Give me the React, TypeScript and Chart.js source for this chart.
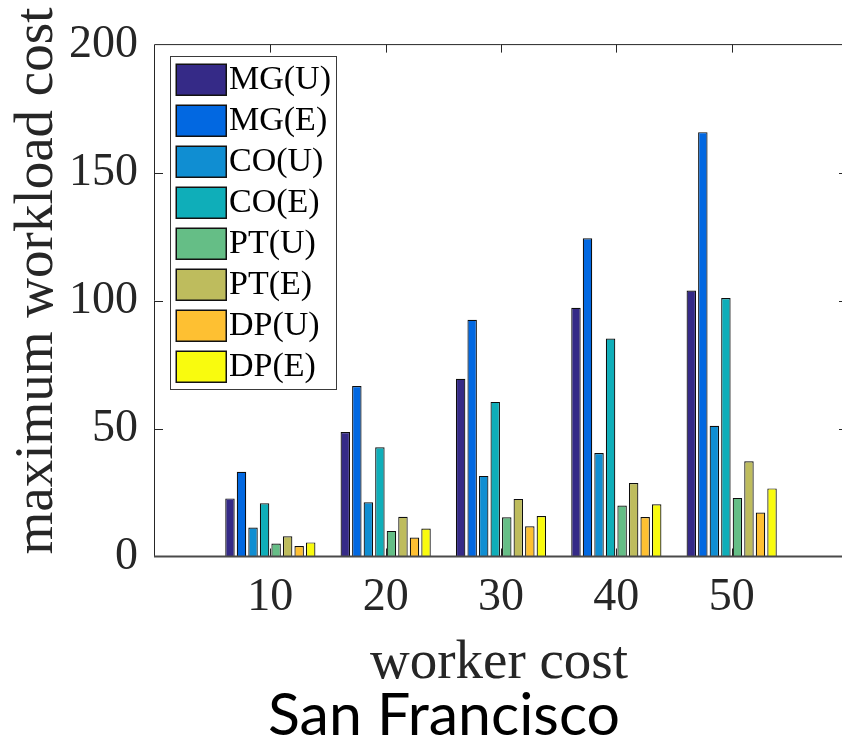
import React, { useEffect, useRef } from 'react';
import { Chart, registerables } from 'chart.js';

Chart.register(...registerables);

// ---- data ----
const workerCosts = [10, 20, 30, 40, 50];
const seriesNames = ['MG(U)', 'MG(E)', 'CO(U)', 'CO(E)', 'PT(U)', 'PT(E)', 'DP(U)', 'DP(E)'];
const mgU = [22.7, 48.6, 69.4, 97.2, 103.9];
const mgE = [33.1, 66.6, 92.5, 124.3, 165.8];
const coU = [11.3, 21.2, 31.5, 40.4, 51.1];
const coE = [20.8, 42.7, 60.4, 85.2, 101.0];
const ptU = [5.1, 10.0, 15.3, 19.9, 22.9];
const ptE = [7.9, 15.5, 22.5, 28.7, 37.2];
const dpU = [4.1, 7.4, 11.8, 15.4, 17.2];
const dpE = [5.5, 10.9, 15.8, 20.4, 26.6];
const seriesValues = [mgU, mgE, coU, coE, ptU, ptE, dpU, dpE];
const seriesColors = ['#352A87', '#0268E1', '#108ED2', '#0FAEB9', '#65BE86', '#BEBC5D', '#FEC032', '#F9FB0E'];
const yTicks = [0, 50, 100, 150, 200];
const xTitle = 'worker cost';
const yTitle = 'maximum workload cost';
const caption = 'San Francisco';

const SERIF = '"Liberation Serif", "Times New Roman", serif';
const AXIS_COLOR = '#262626';

const decor = {
  id: 'decor',
  beforeDatasetsDraw(chart: any) {
    const { ctx, chartArea: a, scales } = chart;
    ctx.save();
    ctx.strokeStyle = AXIS_COLOR;
    ctx.lineWidth = 1;
    const tl = 8;
    ctx.beginPath();
    yTicks.forEach((v) => {
      if (v === 0 || v === 200) return;
      const y = Math.round(scales.y.getPixelForValue(v)) + 0.5;
      ctx.moveTo(a.left, y);
      ctx.lineTo(a.left + tl, y);
      ctx.moveTo(a.right, y);
      ctx.lineTo(a.right - tl, y);
    });
    workerCosts.forEach((v) => {
      const x = Math.round(scales.x.getPixelForValue(v)) + 0.5;
      ctx.moveTo(x, a.top);
      ctx.lineTo(x, a.top + tl);
      ctx.moveTo(x, a.bottom);
      ctx.lineTo(x, a.bottom - tl);
    });
    ctx.stroke();
    ctx.restore();
  },
  afterDatasetsDraw(chart: any) {
    const { ctx, chartArea: a } = chart;
    ctx.save();
    // axes box
    ctx.strokeStyle = AXIS_COLOR;
    ctx.lineWidth = 1;
    ctx.beginPath();
    ctx.moveTo(a.left - 0.5, a.bottom);
    ctx.lineTo(a.left - 0.5, a.top);
    ctx.lineTo(a.right, a.top);
    ctx.lineTo(a.right, a.bottom);
    ctx.stroke();
    ctx.strokeStyle = '#4a4a4a';
    ctx.lineWidth = 2;
    ctx.beginPath();
    ctx.moveTo(a.left - 1, a.bottom);
    ctx.lineTo(a.right, a.bottom);
    ctx.stroke();

    // legend
    const lx = 170.5, ly = 56.5, lw = 166, lh = 333;
    ctx.fillStyle = '#ffffff';
    ctx.fillRect(lx, ly, lw, lh);
    ctx.strokeStyle = '#3a3a3a';
    ctx.lineWidth = 1;
    ctx.strokeRect(lx, ly, lw, lh);
    ctx.font = `34px ${SERIF}`;
    ctx.textAlign = 'left';
    ctx.textBaseline = 'middle';
    chart.data.datasets.forEach((ds: any, i: number) => {
      const sy = 64 + i * 41;
      ctx.fillStyle = ds.backgroundColor;
      ctx.fillRect(176, sy, 50, 31);
      ctx.strokeStyle = '#111';
      ctx.lineWidth = 1.5;
      ctx.strokeRect(176.25, sy + 0.25, 50, 31);
      ctx.fillStyle = '#000';
      ctx.fillText(ds.label, 229, sy + 16.5);
    });
    ctx.restore();
  },
  afterDraw(chart: any) {
    const { ctx } = chart;
    ctx.save();
    ctx.fillStyle = AXIS_COLOR;
    ctx.font = `55px ${SERIF}`;
    ctx.textAlign = 'center';
    ctx.textBaseline = 'alphabetic';
    ctx.fillText(xTitle, 499, 678);
    ctx.save();
    ctx.translate(52, 281);
    ctx.rotate(-Math.PI / 2);
    ctx.fillText(yTitle, 0, 0);
    ctx.restore();
    ctx.fillStyle = '#000';
    ctx.font = '59px Lato, "Open Sans", sans-serif';
    ctx.fillText(caption, 444, 735);
    ctx.restore();
  },
};

export default function App() {
  const ref = useRef<HTMLCanvasElement | null>(null);
  useEffect(() => {
    if (!ref.current) return;
    const datasets = seriesNames.map((name, i) => ({
      label: name,
      data: workerCosts.map((c, j) => ({ x: c, y: seriesValues[i][j] })),
      backgroundColor: seriesColors[i],
      borderColor: '#0d0d0d',
      borderWidth: 1.2,
      categoryPercentage: 0.8,
      barPercentage: 0.82,
    }));
    const chart = new Chart(ref.current, {
      type: 'bar',
      data: { datasets },
      plugins: [decor],
      options: {
        animation: false,
        responsive: false,
        devicePixelRatio: 1,
        layout: { padding: { left: 0, top: 39.5, right: 13, bottom: 0 } },
        plugins: { legend: { display: false }, tooltip: { enabled: false } },
        scales: {
          x: {
            type: 'linear',
            offset: false,
            min: 0,
            max: 60,
            grid: { display: false, drawTicks: false, offset: false },
            border: { display: false },
            ticks: { padding: 14, color: AXIS_COLOR, font: { family: SERIF, size: 46 } },
            afterBuildTicks: (s: any) => {
              s.ticks = workerCosts.map((v) => ({ value: v }));
            },
            afterFit: (s: any) => {
              s.height = 747 - 556.5;
            },
          },
          y: {
            min: 0,
            max: 200,
            grid: { display: false, drawTicks: false },
            border: { display: false },
            ticks: { stepSize: 50, padding: 17, color: AXIS_COLOR, font: { family: SERIF, size: 46 } },
            afterBuildTicks: (s: any) => {
              s.ticks = yTicks.map((v) => ({ value: v }));
            },
            afterFit: (s: any) => {
              s.width = 155;
            },
          },
        },
      } as any,
    });
    return () => chart.destroy();
  }, []);
  return (
    <div style={{ position: 'absolute', left: 0, top: 0, width: 842, height: 747, overflow: 'hidden', background: '#fff' }}>
      <canvas ref={ref} width={860} height={747} style={{ display: 'block' }} />
    </div>
  );
}
